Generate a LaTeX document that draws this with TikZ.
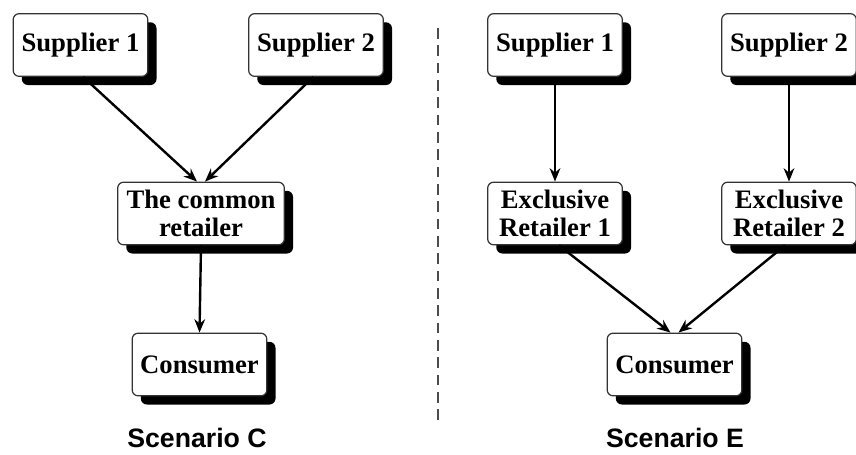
\documentclass[tikz,border=0pt]{standalone}
\usepackage{fontspec}
\setmainfont{Liberation Serif}
\setsansfont{Liberation Sans}
\usetikzlibrary{shapes,arrows,positioning,calc,shadows,arrows.meta}

\begin{document}
\begin{tikzpicture}[x=0.75pt,y=-0.75pt,
    box/.style={draw=black!80,line width=0.9pt,fill=white,rounded corners=4.5pt,
        minimum width=101pt,minimum height=47pt,align=center,inner sep=2pt,
        font=\fontsize{20}{21}\selectfont\bfseries,
        drop shadow={shadow xshift=6.5pt,shadow yshift=-6.5pt,fill=black,opacity=1}},
    flow/.style={line width=1.8pt,-{Stealth[length=10pt,width=8pt]}},
    caption/.style={font=\fontsize{20}{22}\selectfont\sffamily\bfseries}]
    \useasboundingbox (0,0) rectangle (856,454);
    % Scenario C
    \node[box] (supc1) at (80.5,45) {Supplier 1};
    \node[box] (supc2) at (316,45) {Supplier 2};
    \node[box,minimum width=125pt] (common) at (201,213.5) {The common\\retailer};
    \node[box] (consc) at (199.5,364.5) {Consumer};
    \node[caption] (scenc) at (197,438) {Scenario C};
    \draw[flow] ([xshift=2pt]supc1.south) -- ([xshift=-3pt]common.north);
    \draw[flow] ([xshift=-2pt]supc2.south) -- ([xshift=3pt]common.north);
    \draw[flow] (common.south) -- (consc.north);
    % separator
    \coordinate (septop) at (438,28);
    \coordinate (sepbot) at (438,425);
    \draw[black!70,line width=1.6pt,dash pattern=on 8pt off 5pt] (septop) -- (sepbot);
    % Scenario E
    \node[box] (supe1) at (555,45) {Supplier 1};
    \node[box] (supe2) at (789,45) {Supplier 2};
    \node[box] (ret1) at (555,213.5) {Exclusive\\Retailer 1};
    \node[box] (ret2) at (789,213.5) {Exclusive\\Retailer 2};
    \node[box] (conse) at (674.5,364.5) {Consumer};
    \node[caption] (scene) at (675,438) {Scenario E};
    \draw[flow] (supe1.south) -- (ret1.north);
    \draw[flow] (supe2.south) -- (ret2.north);
    \draw[flow] ([xshift=3pt]ret1.south) -- ([xshift=-3pt]conse.north);
    \draw[flow] ([xshift=-3pt]ret2.south) -- ([xshift=3pt]conse.north);
\end{tikzpicture}
\end{document}
